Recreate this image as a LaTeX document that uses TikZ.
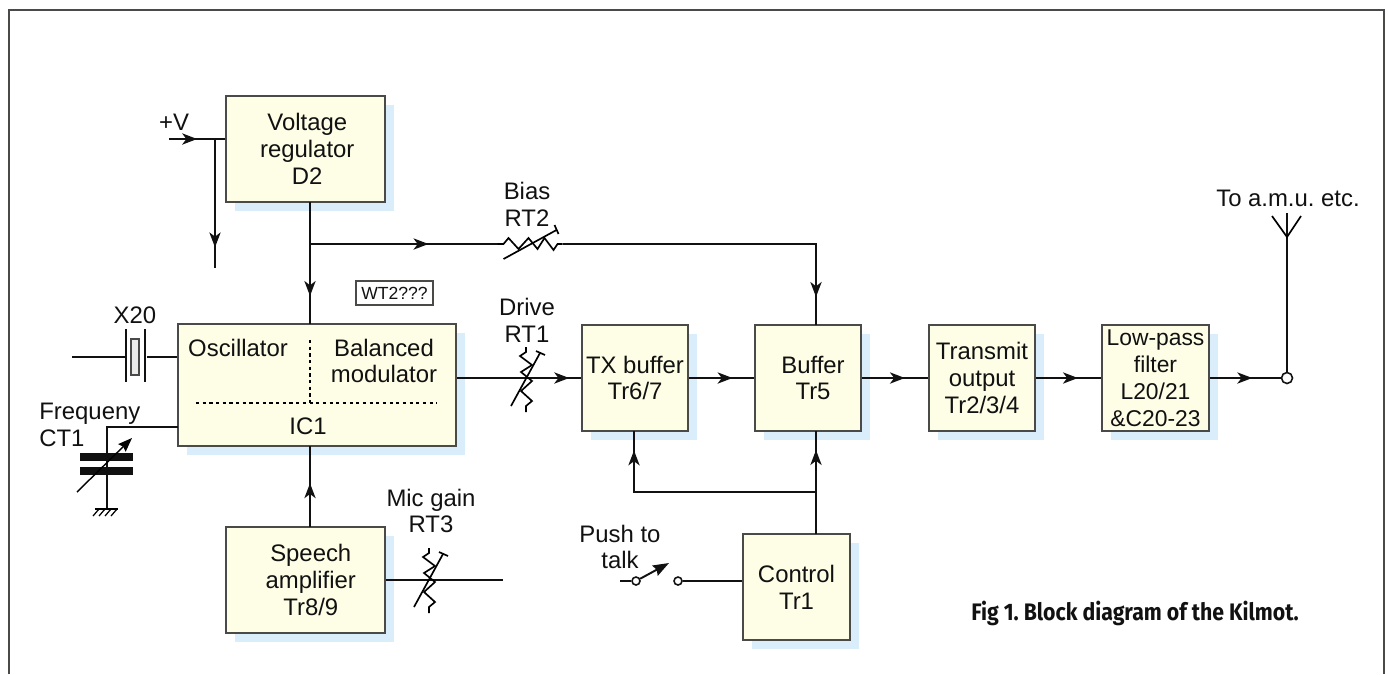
\documentclass[tikz,border=0pt]{standalone}
\usepackage{fontspec}
\setmainfont{Liberation Sans}
\newfontfamily\capfont{Fira Sans}
\usetikzlibrary{arrows.meta,positioning,shadows,decorations.markings}

\definecolor{boxfill}{HTML}{FEFDE6}
\definecolor{boxshade}{HTML}{D9EEFA}
\definecolor{boxline}{HTML}{4A4A48}
\definecolor{inkline}{HTML}{111111}

\begin{document}
\frenchspacing
\begin{tikzpicture}[x=0.02cm,y=-0.02cm,font=\fontsize{13.6}{15.3}\selectfont,text=inkline]
\tikzset{
  blockbox/.style={rectangle,draw=boxline,line width=0.9pt,fill=boxfill,align=center,inner sep=0pt,
    minimum width=2.13cm,minimum height=2.12cm,
    drop shadow={shadow xshift=0.18cm,shadow yshift=-0.18cm,fill=boxshade,opacity=1}},
  wire/.style={draw=inkline,line width=1.1pt},
  tipat/.style={postaction={decorate,decoration={markings,
    mark=at position #1 with {\arrow{Stealth[length=8.5pt,width=6.4pt,inset=2.4pt]}}}}},
  label/.style={align=center,inner sep=0pt},
  openpin/.style={circle,draw=inkline,line width=0.9pt,fill=white,inner sep=0pt,minimum size=0.16cm},
  rheostat/.pic={
    \draw[line width=0.95pt] (0,-32) -- (0,-27) -- (-6,-23) -- (6,-14) -- (-5,-7) -- (6,2)
      -- (-5,12) -- (6,22) -- (0,27) -- (0,33);
    \draw[line width=0.95pt] (-15,27) -- (14,-26);
    \draw[line width=0.95pt] (10,-28) -- (19,-24);
  }
}
\useasboundingbox (0,0) rectangle (1388,674);
% frame
\draw[draw=boxline,line width=0.9pt] (9,674) -- (9,10) -- (1384,10) -- (1384,674);

% blocks
\node[blockbox,minimum width=3.18cm] (vreg) at (305.5,149) {\hspace*{2pt}Voltage\\\hspace*{2pt}regulator\\\hspace*{2pt}D2};
\node[blockbox,minimum width=5.56cm,minimum height=2.44cm] (ic) at (317,385) {};
\node[blockbox,minimum width=3.18cm] (speech) at (305.5,580) {\hspace*{6pt}Speech\\\hspace*{6pt}amplifier\\\hspace*{6pt}Tr8/9};
\node[blockbox] (txbuf) at (635,378) {TX buffer\\Tr6/7};
\node[blockbox] (buf) at (808,378) {\hspace*{5.7pt}Buffer\\\hspace*{5.7pt}Tr5};
\node[blockbox] (ctrl) at (796.5,587) {Control\\Tr1};
\node[blockbox] (txout) at (982,378) {Transmit\\output\\Tr2/3/4};
\node[blockbox,font=\fontsize{13}{15.3}\selectfont] (lpf) at (1155.5,378) {Low-pass\\filter\\L20/21\\\&C20-23};

% inside IC1
\node[label] (l_osc) at (238,348) {Oscillator};
\node[label] (l_bal) at (384,361) {Balanced\\modulator};
\node[label] (l_ic) at (308,426) {IC1};
\coordinate (d_top) at (310,340);
\coordinate (d_mid) at (310,403);
\coordinate (d_l) at (196,403);
\coordinate (d_r) at (437,403);
\draw[line width=1pt,dash pattern=on 1.8pt off 2pt] (d_top) -- (d_mid);
\draw[line width=1pt,dash pattern=on 1.8pt off 2pt] (d_l) -- (d_r);

% labels
\node[label] (l_v) at (174,122) {+V};
\node[label] (l_bias) at (527,204) {Bias\\RT2};
\node[label] (l_drive) at (527,320) {Drive\\RT1};
\node[label] (l_mic) at (431,511) {Mic gain\\RT3};
\node[label] (l_x20) at (135,315) {X20};
\node[label,align=left,anchor=west] (l_freq) at (39,425) {Frequeny\\CT1};
\node[label] (l_ptt) at (620,547) {Push to\\talk};
\node[label] (l_amu) at (1288,198) {To a.m.u. etc.};
\node[label,font={\capfont\bfseries\fontsize{13.6}{15}\selectfont},xscale=0.89,anchor=west] (l_fig) at (971,613) {Fig 1. Block diagram of the Kilmot.};
\node[draw=boxline,line width=0.6pt,fill=white,inner sep=0pt,minimum width=1.54cm,minimum height=0.48cm,font=\fontsize{10}{12}\selectfont] (l_wt) at (394.5,293) {WT2???};

% supply
\coordinate (v_in) at (169,139);
\coordinate (v_j) at (215,139);
\coordinate (v_end) at (215,268);
\draw[wire,tipat=0.5] (v_in) -- (vreg.west |- v_in);
\draw[wire,tipat=0.84] (v_j) -- (v_end);

% bias line
\coordinate (b_top) at (310,202);
\coordinate (b_j) at (310,244);
\coordinate (b_ic) at (310,324);
\coordinate (rt2_in) at (498,244);
\coordinate (rt2_out) at (563,244);
\coordinate (b_buf) at (816,325);
\draw[wire,tipat=0.77] (b_top) -- (b_ic);
\draw[wire,tipat=0.63] (b_j) -- (rt2_in);
\draw[wire,tipat=0.916] (rt2_out) -| (b_buf);
\pic[rotate=-90,xscale=-1] at (530.5,244) {rheostat};

% signal path
\draw[wire,tipat=0.905] (ic.east |- txbuf.west) -- (txbuf.west);
\pic at (526,379) {rheostat};
\draw[wire,tipat=0.67] (txbuf.east) -- (buf.west);
\draw[wire,tipat=0.65] (buf.east) -- (txout.west);
\draw[wire,tipat=0.64] (txout.east) -- (lpf.west);
\node[openpin,minimum size=0.22cm] (out) at (1287,378) {};
\draw[wire,tipat=0.6] (lpf.east) -- (out);

% aerial
\coordinate (a_foot) at (1287,237);
\coordinate (a_top) at (1287,213);
\coordinate (a_l) at (1272,216);
\coordinate (a_r) at (1301,216);
\draw[wire] (out) -- (a_top);
\draw[line width=0.95pt] (a_l) -- (a_foot) -- (a_r);

% speech
\coordinate (s_ic) at (310,446);
\coordinate (s_top) at (310,527);
\coordinate (s_end) at (503,580);
\draw[wire,tipat=0.54] (s_top) -- (s_ic);
\draw[wire] (speech.east) -- (s_end);
\pic at (429,580) {rheostat};

% control
\coordinate (c_top) at (816,534);
\coordinate (c_buf) at (816,431);
\coordinate (c_j) at (816,492);
\coordinate (c_tx) at (634,431);
\draw[wire,tipat=0.815] (c_top) -- (c_buf);
\draw[wire,tipat=0.92] (c_j) -| (c_tx);

% switch
\coordinate (p_in) at (620,581);
\coordinate (p_tip) at (669,563);
\node[openpin] (p_l) at (636,581) {};
\node[openpin] (p_r) at (678,581) {};
\draw[wire] (p_in) -- (p_l);
\draw[wire] (p_r) -- (ctrl.west |- p_r);
\draw[wire,-{Stealth[length=9pt,width=6.5pt,inset=1pt]}] (p_l) -- (p_tip);

% crystal
\node[draw=boxline,line width=0.6pt,fill=black!8,inner sep=0pt,minimum width=0.16cm,minimum height=0.72cm] (xtal) at (135,357) {};
\coordinate (x_in) at (72,357);
\coordinate (x_l) at (126,357);
\coordinate (x_r) at (147,357);
\draw[wire] (x_in) -- (x_l);
\draw[wire] (x_r) -- (ic.west |- x_r);
\draw[wire] (126,329) -- (126,382);
\draw[wire] (145,329) -- (145,382);

% tuning capacitor
\coordinate (t_ic) at (178,427);
\coordinate (t_bend) at (107,427);
\coordinate (t_gnd) at (107,509);
\draw[wire] (t_ic) -- (t_bend) -- (t_gnd);
\fill[inkline] (80,453) rectangle (133,461);
\fill[inkline] (80,467) rectangle (133,475);
\draw[line width=0.8pt,-{Stealth[length=8pt,width=6pt,inset=1pt]}] (77,492) -- (132,438);
\draw[line width=0.9pt] (95,509) -- (118,509);
\foreach \hx in {99,105,111,117} {
  \draw[line width=0.7pt] (\hx,509) -- ++(-6,7);
}
\end{tikzpicture}
\end{document}
